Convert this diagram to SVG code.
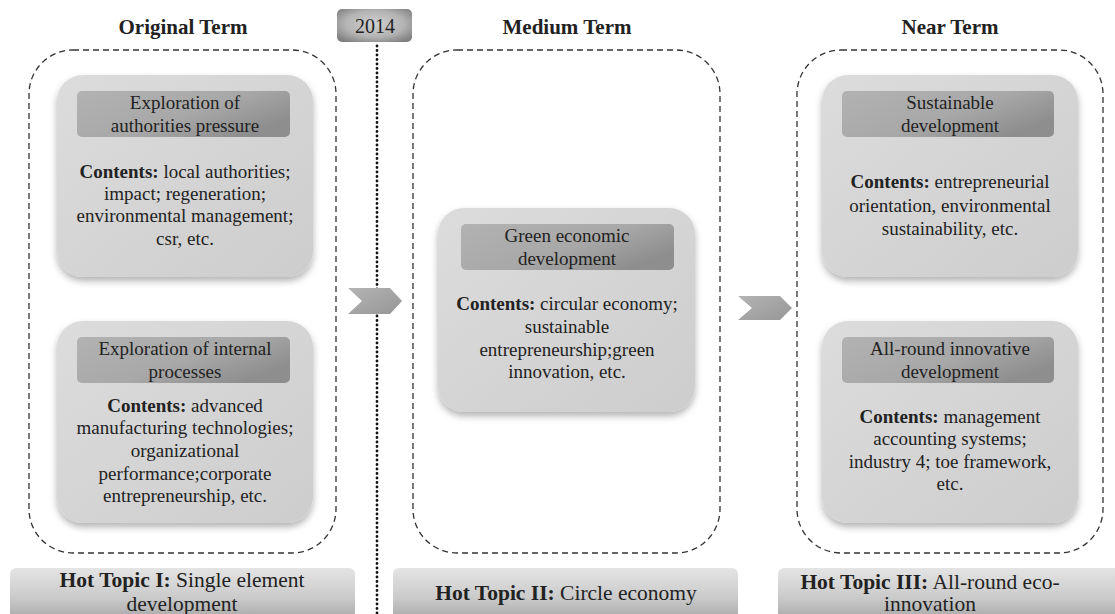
<svg xmlns="http://www.w3.org/2000/svg" width="1115" height="614" viewBox="0 0 1115 614" font-family="'Liberation Serif', 'DejaVu Serif', serif">
  <style>
    text { font-family: "Liberation Serif", "Tinos", "DejaVu Serif", serif; fill: #222; text-anchor: middle; }
    .title { font-size: 21px; font-weight: bold; }
    .body { font-size: 19px; }
    .hot { font-size: 21.5px; }
    .b { font-weight: bold; }
    .frame { fill: none; stroke: #333; stroke-width: 1.3; stroke-dasharray: 6 4; }
    .card { fill: url(#cardFill); filter: url(#shadow); }
    .head { fill: url(#headFill); }
    .bar { fill: url(#barFill); }
    .chev { fill: url(#chevFill); }
  </style>
  <defs>
    <linearGradient id="cardFill" x1="0" y1="0" x2="1" y2="1">
      <stop offset="0" stop-color="#dcdcdc"/>
      <stop offset="1" stop-color="#cdcdcd"/>
    </linearGradient>
    <linearGradient id="headFill" x1="0" y1="0" x2="1" y2="0.6">
      <stop offset="0" stop-color="#b2b2b2"/>
      <stop offset="0.6" stop-color="#a8a8a8"/>
      <stop offset="1" stop-color="#8e8e8e"/>
    </linearGradient>
    <linearGradient id="barFill" x1="0" y1="0" x2="0" y2="1">
      <stop offset="0" stop-color="#e4e4e4"/>
      <stop offset="0.5" stop-color="#cacaca"/>
      <stop offset="1" stop-color="#9a9a9a"/>
    </linearGradient>
    <radialGradient id="yearFill" cx="0.5" cy="0.45" r="0.65">
      <stop offset="0" stop-color="#d0d0d0"/>
      <stop offset="0.6" stop-color="#b4b4b4"/>
      <stop offset="1" stop-color="#808080"/>
    </radialGradient>
    <linearGradient id="chevFill" x1="0" y1="0" x2="1" y2="1">
      <stop offset="0" stop-color="#b4b4b4"/>
      <stop offset="1" stop-color="#969696"/>
    </linearGradient>
    <filter id="shadow" x="-10%" y="-10%" width="120%" height="125%">
      <feDropShadow dx="0" dy="4" stdDeviation="3.5" flood-color="#000" flood-opacity="0.3"/>
    </filter>
  </defs>

  <!-- column headings -->
  <g id="headings">
    <text class="title" x="183" y="34">Original Term</text>
    <text class="title" x="567" y="34">Medium Term</text>
    <text class="title" x="950" y="34">Near Term</text>
  </g>

  <!-- timeline divider and period arrows -->
  <g id="connectors">
    <line x1="377" y1="46" x2="377" y2="614" stroke="#111" stroke-width="2.8" stroke-linecap="round" stroke-dasharray="0 4.5"/>
    <polygon class="chev" points="348,288 390,288 402,301 390,314 348,314 362,301"/>
    <polygon class="chev" points="738,296 780,296 792,308 780,320 738,320 752,308"/>
  </g>

  <g id="year-2014">
    <rect x="337" y="9" width="75" height="33" rx="5" fill="url(#yearFill)"/>
    <text x="375" y="33" style="font-size:20px">2014</text>
  </g>

  <!-- dashed period frames -->
  <g id="frame-original"><rect class="frame" x="29" y="50" width="307" height="503" rx="44"/></g>
  <g id="frame-medium"><rect class="frame" x="413" y="50" width="307" height="503" rx="44"/></g>
  <g id="frame-near"><rect class="frame" x="797" y="50" width="306" height="503" rx="44"/></g>

  <!-- Original term topics -->
  <g id="authorities-pressure">
    <rect class="card" x="57" y="75" width="256" height="202" rx="26"/>
    <rect class="head" x="77" y="91" width="213" height="46" rx="5"/>
    <text class="body" x="185" y="109">Exploration of</text>
    <text class="body" x="185" y="132">authorities pressure</text>
    <text class="body" x="185" y="178"><tspan class="b">Contents:</tspan> local authorities;</text>
    <text class="body" x="185" y="200">impact; regeneration;</text>
    <text class="body" x="185" y="222">environmental management;</text>
    <text class="body" x="185" y="245">csr, etc.</text>
  </g>

  <g id="internal-processes">
    <rect class="card" x="57" y="321" width="256" height="202" rx="26"/>
    <rect class="head" x="77" y="337" width="213" height="46" rx="5"/>
    <text class="body" x="185" y="355">Exploration of internal</text>
    <text class="body" x="185" y="378">processes</text>
    <text class="body" x="185" y="412"><tspan class="b">Contents:</tspan> advanced</text>
    <text class="body" x="185" y="434">manufacturing technologies;</text>
    <text class="body" x="185" y="457">organizational</text>
    <text class="body" x="185" y="480">performance;corporate</text>
    <text class="body" x="185" y="502">entrepreneurship, etc.</text>
  </g>

  <!-- Medium term topic -->
  <g id="green-economic">
    <rect class="card" x="438" y="208" width="257" height="204" rx="26"/>
    <rect class="head" x="461" y="224" width="213" height="46" rx="5"/>
    <text class="body" x="567" y="242">Green economic</text>
    <text class="body" x="567" y="265">development</text>
    <text class="body" x="567" y="310"><tspan class="b">Contents:</tspan> circular economy;</text>
    <text class="body" x="567" y="333">sustainable</text>
    <text class="body" x="567" y="356">entrepreneurship;green</text>
    <text class="body" x="567" y="378">innovation, etc.</text>
  </g>

  <!-- Near term topics -->
  <g id="sustainable-development">
    <rect class="card" x="822" y="75" width="256" height="202" rx="26"/>
    <rect class="head" x="842" y="91" width="212" height="46" rx="5"/>
    <text class="body" x="950" y="109">Sustainable</text>
    <text class="body" x="950" y="132">development</text>
    <text class="body" x="950" y="188"><tspan class="b">Contents:</tspan> entrepreneurial</text>
    <text class="body" x="950" y="212">orientation, environmental</text>
    <text class="body" x="950" y="235">sustainability, etc.</text>
  </g>

  <g id="all-round-innovative">
    <rect class="card" x="822" y="321" width="256" height="202" rx="26"/>
    <rect class="head" x="842" y="337" width="212" height="46" rx="5"/>
    <text class="body" x="950" y="355">All-round innovative</text>
    <text class="body" x="950" y="378">development</text>
    <text class="body" x="950" y="423"><tspan class="b">Contents:</tspan> management</text>
    <text class="body" x="950" y="445">accounting systems;</text>
    <text class="body" x="950" y="468">industry 4; toe framework,</text>
    <text class="body" x="950" y="490">etc.</text>
  </g>

  <!-- hot topic banners -->
  <g id="hot-topic-1">
    <rect class="bar" x="10" y="568" width="345" height="60" rx="6"/>
    <text class="hot" x="182" y="587"><tspan class="b">Hot Topic I:</tspan> Single element</text>
    <text class="hot" x="182" y="611">development</text>
  </g>
  <g id="hot-topic-2">
    <rect class="bar" x="393" y="568" width="345" height="60" rx="6"/>
    <text class="hot" x="566" y="600"><tspan class="b">Hot Topic II:</tspan> Circle economy</text>
  </g>
  <g id="hot-topic-3">
    <rect class="bar" x="778" y="568" width="345" height="60" rx="6"/>
    <text class="hot" x="930" y="589"><tspan class="b">Hot Topic III:</tspan> All-round eco-</text>
    <text class="hot" x="930" y="611">innovation</text>
  </g>
</svg>
